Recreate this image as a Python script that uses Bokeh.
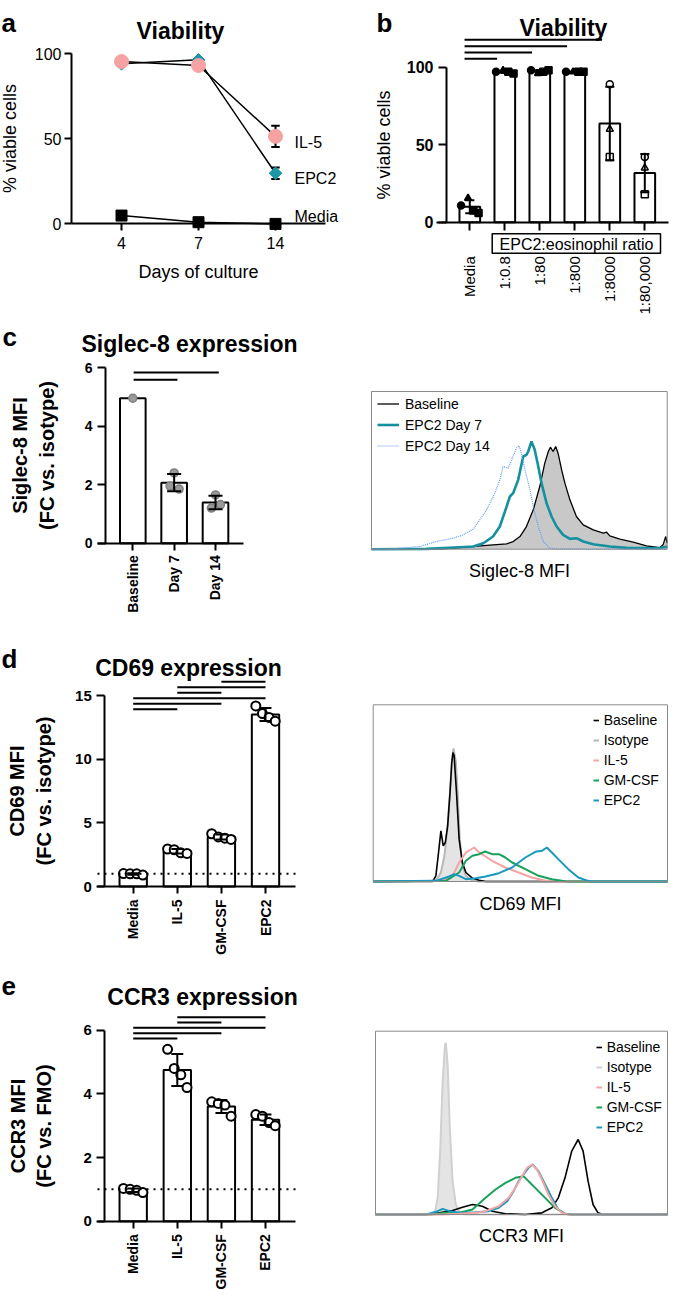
import math
import numpy as np
from bokeh.plotting import figure
from bokeh.layouts import column, row
from bokeh.models import Label, FixedTicker, BoxAnnotation, Legend, LegendItem
from bokeh.embed import file_html
from bokeh.resources import INLINE

FONT = "Liberation Sans"

# ---------------- data ----------------
# (a) viability over time
a_days = ["4", "7", "14"]
a_il5 = [95.5, 93.2, 51.5]
a_il5_sd = [0.8, 0.8, 6.3]
a_epc2 = [94.2, 96.5, 29.8]
a_epc2_sd = [0.8, 0.8, 3.4]
a_media = [4.9, 1.0, 0.0]
a_names = ["IL-5", "EPC2", "Media"]

# (b) viability vs ratio
b_groups = ["Media", "1:0.8", "1:80", "1:800", "1:8000", "1:80,000"]
b_values = [[10.7, 15.5, 7.5, 6.0], [97, 98, 97, 96], [98, 96, 97, 98],
            [97, 97, 97, 97], [89, 60, 42], [42, 35, 18]]
b_sig_pairs = [(0, 1), (0, 2), (0, 3), (0, 4)]
b_ratio_label = "EPC2:eosinophil ratio"

# (c) Siglec-8
c_groups = ["Baseline", "Day 7", "Day 14"]
c_values = [[4.95], [2.4, 1.95, 1.85], [1.65, 1.2, 1.32]]
c_sig_pairs = [(0, 1), (0, 2)]

sig_base_x = [0, 242, 411, 457, 479, 502, 524, 547, 569, 586, 598, 605, 614, 623, 631, 643, 654,
              671, 693, 716, 750, 784, 795, 806, 840, 885, 930, 975, 986, 995, 1000]
sig_base_y = [0, 1, 13, 16, 23, 38, 68, 118, 188, 258, 293, 306, 293, 308, 288, 238, 198,
              148, 98, 73, 58, 48, 51, 40, 30, 21, 10, 5, 13, 38, 18]
sig_d7_x = [0, 186, 299, 344, 378, 411, 434, 457, 468, 479, 496, 513, 524, 530, 541, 552, 564,
            575, 592, 609, 626, 648, 671, 693, 716, 750, 806, 862, 975, 1000]
sig_d7_y = [0, 1, 6, 8, 18, 38, 68, 128, 158, 168, 208, 278, 283, 293, 323, 298, 248,
            198, 138, 98, 68, 43, 31, 33, 23, 15, 8, 4, 3, 8]
sig_d14_x = [0, 73, 163, 220, 276, 310, 344, 366, 389, 400, 417, 434, 445, 462, 474, 490, 499,
             507, 519, 536, 547, 564, 581, 603, 637, 1000]
sig_d14_y = [0, 1, 8, 23, 33, 43, 60, 88, 118, 138, 168, 208, 248, 243, 268, 303, 310,
             288, 238, 178, 128, 68, 23, 3, 0, 0]

# (d) CD69
d_groups = ["Media", "IL-5", "GM-CSF", "EPC2"]
d_values = [[1.02, 1.0, 1.0, 0.9], [2.95, 2.9, 2.65, 2.6], [4.15, 3.9, 3.8, 3.7], [14.2, 13.6, 13.3, 13.0]]
d_sig_pairs = [(0, 1), (0, 2), (0, 3), (1, 2), (1, 3), (2, 3)]

cd69_base_x = [0, 202, 213, 222, 230, 238, 245, 253, 261, 267, 271, 275, 283, 292, 303, 315, 337, 360, 382, 1000]
cd69_base_y = [0, 0, 17, 87, 152, 107, 117, 167, 267, 357, 387, 377, 267, 127, 57, 27, 10, 4, 0, 0]
cd69_iso_x = [0, 213, 230, 242, 253, 261, 267, 273, 281, 287, 294, 303, 315, 337, 360, 1000]
cd69_iso_y = [0, 2, 27, 77, 167, 267, 357, 399, 357, 267, 127, 47, 17, 2, 0, 0]
cd69_il5_x = [0, 236, 270, 292, 315, 343, 360, 382, 404, 449, 494, 539, 584, 629, 1000]
cd69_il5_y = [0, 2, 17, 57, 87, 102, 87, 75, 62, 42, 27, 12, 3, 0, 0]
cd69_gm_x = [0, 247, 292, 315, 337, 360, 380, 404, 427, 449, 472, 517, 562, 607, 652, 674, 1000]
cd69_gm_y = [0, 2, 27, 62, 77, 82, 90, 82, 82, 72, 57, 37, 17, 7, 1, 0, 0]
cd69_epc2_x = [0, 213, 258, 275, 292, 315, 348, 382, 427, 472, 517, 551, 573, 590, 607, 629, 663, 697, 730, 742, 1000]
cd69_epc2_y = [0, 2, 15, 22, 17, 7, 10, 15, 25, 42, 72, 89, 92, 102, 87, 67, 37, 12, 2, 0, 0]

# (e) CCR3
e_groups = ["Media", "IL-5", "GM-CSF", "EPC2"]
e_values = [[1.03, 1.0, 0.97, 0.9], [5.4, 4.8, 4.6, 4.2], [3.75, 3.7, 3.65, 3.3], [3.35, 3.3, 3.1, 3.0]]
e_sig_pairs = [(0, 1), (0, 2), (0, 3), (1, 2), (1, 3)]

ccr3_iso_x = [0, 202, 213, 222, 230, 238, 241, 247, 255, 264, 275, 292, 309, 1000]
ccr3_iso_y = [0, 0, 50, 200, 400, 510, 515, 450, 250, 100, 30, 2, 0, 0]
ccr3_base_x = [0, 173, 219, 264, 298, 332, 366, 400, 445, 513, 570, 604, 626, 649, 672, 694, 711, 728, 745, 762, 779, 1000]
ccr3_base_y = [0, 0, 5, 12, 22, 30, 25, 10, 2, 0, 5, 20, 50, 110, 190, 225, 190, 100, 30, 5, 0, 0]
ccr3_gm_x = [0, 185, 241, 287, 332, 377, 411, 445, 479, 507, 524, 547, 581, 615, 649, 672, 1000]
ccr3_gm_y = [0, 0, 5, 5, 15, 50, 75, 95, 110, 115, 100, 80, 50, 20, 2, 0, 0]
ccr3_il5_x = [0, 230, 287, 343, 377, 422, 456, 479, 502, 519, 536, 553, 570, 592, 615, 638, 660, 1000]
ccr3_il5_y = [0, 0, 2, 5, 10, 25, 50, 80, 115, 140, 150, 135, 105, 60, 25, 5, 0, 0]
ccr3_epc2_x = [0, 173, 207, 230, 253, 287, 343, 388, 422, 451, 473, 490, 507, 524, 538, 558, 581, 604, 626, 649, 672, 1000]
ccr3_epc2_y = [0, 0, 8, 17, 10, 5, 7, 10, 20, 40, 70, 100, 120, 140, 150, 130, 90, 50, 15, 2, 0, 0]

# ---------------- colours ----------------
PINK = "#f6a2a2"
TEAL = "#1b97a7"
H_TEAL = "#15909f"
H_DOT = "#5f9df5"
H_IL5 = "#f5a3a3"
H_GM = "#17a15b"
H_EPC2 = "#1a99bf"
H_ISO_FILL = "#e4e4e4"
H_ISO_LINE = "#b8b8b8"

# ---------------- geometry ----------------
# fig = page rectangle; shift = offset applied to reference-pixel positions;
# xm / ym = (reference pixel of data 0, pixels per data unit)
SPEC = {
    "a": dict(fig=(0, 0, 340, 314), shift=(0, 0), xm=(121, 77), ym=(223.4, 1.7)),
    "b": dict(fig=(340, 0, 329, 314), shift=(-14, 0), xm=(483.3, 35), ym=(221.7, 1.55)),
    "c": dict(fig=(0, 314, 340, 308), shift=(0, -4), xm=(132.3, 41.35), ym=(546.7, 29.28)),
    "c2": dict(fig=(340, 314, 329, 308), shift=(-14, -4), xm=(385, 0.2957), ym=(552.7, 0.3334)),
    "d": dict(fig=(0, 622, 340, 344), shift=(0, -8), xm=(132.7, 44.1), ym=(894, 12.713)),
    "d2": dict(fig=(340, 622, 329, 344), shift=(-14, -8), xm=(386.7, 0.2943), ym=(889, 0.3334)),
    "e": dict(fig=(0, 966, 340, 325), shift=(0, -16), xm=(132.7, 44.1), ym=(1236.7, 31.83)),
    "e2": dict(fig=(340, 966, 329, 325), shift=(-14, -16), xm=(389, 0.292), ym=(1230, 0.3333)),
}


def rx(key, X):
    px0, ppu = SPEC[key]["xm"]
    return (X - px0) / ppu


def ry(key, Y):
    py0, ppu = SPEC[key]["ym"]
    return (py0 - Y) / ppu


def make_fig(key):
    s = SPEC[key]
    fx, fy, w, h = s["fig"]
    sx, sy = s["shift"]
    xr = (rx(key, fx - sx), rx(key, fx + w - sx))
    yr = (ry(key, fy + h - sy), ry(key, fy - sy))
    p = figure(width=w, height=h, x_range=xr, y_range=yr, title=None,
               output_backend="svg", toolbar_location=None,
               min_border_left=0, min_border_right=0, min_border_top=0, min_border_bottom=0)
    p.xgrid.visible = False
    p.ygrid.visible = False
    p.outline_line_color = None
    p.background_fill_color = "white"
    p.border_fill_color = "white"
    return p


def style_axis(ax, tick_px, tick_style, label_px, label_style, tick_out=7, standoff=5, label_standoff=8):
    ax.axis_line_color = "black"
    ax.axis_line_width = 2
    ax.major_tick_line_color = "black"
    ax.major_tick_line_width = 2
    ax.major_tick_in = 0
    ax.major_tick_out = tick_out
    ax.minor_tick_line_color = None
    ax.major_label_text_font = FONT
    ax.major_label_text_font_size = f"{tick_px}px"
    ax.major_label_text_font_style = tick_style
    ax.major_label_text_color = "black"
    ax.major_label_standoff = standoff
    ax.axis_label_text_font = FONT
    ax.axis_label_text_font_size = f"{label_px}px"
    ax.axis_label_text_font_style = label_style
    ax.axis_label_text_color = "black"
    ax.axis_label_standoff = label_standoff


def put_text(p, key, X, Y, text, size, style="normal", align="left", baseline="alphabetic"):
    p.add_layout(Label(x=rx(key, X), y=ry(key, Y), text=text, text_font=FONT,
                       text_font_size=f"{size}px", text_font_style=style,
                       text_align=align, text_baseline=baseline, text_color="black"))


def sdev(v):
    return float(np.std(v, ddof=1)) if len(v) > 1 else 0.0


def bar_panel(key, groups, values, bar_w, cap_w, jit, markers, fills, pt_line, pt_size, pt_lw,
              x_bounds_px, y_axis_px, y_bounds, y_ticks):
    p = make_fig(key)
    xs = list(range(len(groups)))
    means = [float(np.mean(v)) for v in values]
    sds = [sdev(v) for v in values]
    p.vbar(x=xs, top=means, width=bar_w, bottom=0, fill_color="white",
           line_color="black", line_width=2)
    ptx, pty, mk, fc = [], [], [], []
    for i, v in enumerate(values):
        offs = jit[len(v)]
        for j, val in enumerate(v):
            ptx.append(i + offs[j])
            pty.append(val)
            mk.append(markers[j % len(markers)])
            fc.append(fills[i])
    p.scatter(x=ptx, y=pty, marker=mk, size=pt_size, fill_color=fc,
              line_color=pt_line, line_width=pt_lw)
    eb = [i for i in xs if sds[i] > 0]
    lo = [means[i] - sds[i] for i in eb]
    hi = [means[i] + sds[i] for i in eb]
    p.segment(x0=eb, y0=lo, x1=eb, y1=hi, line_color="black", line_width=2)
    p.segment(x0=[i - cap_w / 2 for i in eb], y0=hi, x1=[i + cap_w / 2 for i in eb], y1=hi,
              line_color="black", line_width=2)
    p.segment(x0=[i - cap_w / 2 for i in eb], y0=lo, x1=[i + cap_w / 2 for i in eb], y1=lo,
              line_color="black", line_width=2)
    xa = p.xaxis[0]
    xa.fixed_location = 0
    xa.bounds = (rx(key, x_bounds_px[0]), rx(key, x_bounds_px[1]))
    xa.ticker = FixedTicker(ticks=xs)
    xa.major_label_overrides = {i: g for i, g in enumerate(groups)}
    xa.major_label_orientation = math.pi / 2
    ya = p.yaxis[0]
    ya.fixed_location = rx(key, y_axis_px)
    ya.bounds = y_bounds
    ya.ticker = FixedTicker(ticks=y_ticks)
    return p


def sig_lines(p, key, pairs, base_px, step_px, off0=0.0, off1=0.0):
    ys = [ry(key, base_px - k * step_px) for k in range(len(pairs))]
    p.segment(x0=[a + off0 for a, b in pairs], y0=ys, x1=[b + off1 for a, b in pairs], y1=ys,
              line_color="black", line_width=2)


def hist_fig(key, xlabel, box_px, label_standoff):
    p = make_fig(key)
    l, r, t, b = box_px
    p.add_layout(BoxAnnotation(left=rx(key, l), right=rx(key, r), top=ry(key, t), bottom=ry(key, b),
                               fill_alpha=0, line_color="#8a8a8a", line_width=1, line_alpha=1))
    ax = p.xaxis[0]
    ax.fixed_location = 0
    ax.bounds = (0, 1000)
    ax.ticker = FixedTicker(ticks=[])
    ax.axis_line_color = None
    ax.major_tick_line_color = None
    ax.minor_tick_line_color = None
    ax.major_tick_out = 0
    ax.major_label_standoff = 0
    ax.axis_label = xlabel
    ax.axis_label_text_font = FONT
    ax.axis_label_text_font_size = "18px"
    ax.axis_label_text_font_style = "normal"
    ax.axis_label_text_color = "black"
    ax.axis_label_standoff = label_standoff
    p.yaxis.visible = False
    return p


def add_legend(p, key, items, left_px, top_px, glyph_w, row_h, padding, standoff):
    s = SPEC[key]
    fx, fy, w, h = s["fig"]
    sx, sy = s["shift"]
    height = len(items) * row_h + 2 * padding
    vx = (left_px + sx) - fx
    vy = (fy + h) - (top_px + sy + height)
    leg = Legend(items=items, location=(vx, vy), orientation="vertical",
                 background_fill_alpha=0, border_line_alpha=0,
                 label_text_font=FONT, label_text_font_size="14px", label_text_color="black",
                 glyph_width=glyph_w, glyph_height=row_h, label_height=row_h, spacing=0,
                 padding=padding, margin=0, label_standoff=standoff)
    p.add_layout(leg)


# ======================= panel a =======================
pa = make_fig("a")
xa_pos = list(range(len(a_days)))
for ys in (a_il5, a_epc2, a_media):
    pa.line(xa_pos, ys, line_color="black", line_width=1.5)
for ys, ss in ((a_il5, a_il5_sd), (a_epc2, a_epc2_sd)):
    lo = [m - s for m, s in zip(ys, ss)]
    hi = [m + s for m, s in zip(ys, ss)]
    pa.segment(x0=xa_pos, y0=lo, x1=xa_pos, y1=hi, line_color="black", line_width=2)
    pa.segment(x0=[x - 0.055 for x in xa_pos], y0=hi, x1=[x + 0.055 for x in xa_pos], y1=hi, line_color="black", line_width=2)
    pa.segment(x0=[x - 0.055 for x in xa_pos], y0=lo, x1=[x + 0.055 for x in xa_pos], y1=lo, line_color="black", line_width=2)
pa.scatter(xa_pos, a_epc2, marker="square", angle=math.pi / 4, size=9, fill_color=TEAL, line_color=TEAL)
pa.scatter(xa_pos, a_il5, marker="circle", size=14, fill_color=PINK, line_color=PINK)
pa.scatter(xa_pos, a_media, marker="square", size=11, fill_color="black", line_color="black")

ax = pa.xaxis[0]
style_axis(ax, 16, "normal", 18, "normal", tick_out=7, standoff=6, label_standoff=10)
ax.fixed_location = 0
ax.bounds = (rx("a", 71), rx("a", 325))
ax.ticker = FixedTicker(ticks=xa_pos)
ax.major_label_overrides = {i: d for i, d in enumerate(a_days)}
ax.axis_label = "Days of culture"
ay = pa.yaxis[0]
style_axis(ay, 16, "normal", 18, "normal", tick_out=7, standoff=3, label_standoff=12)
ay.fixed_location = rx("a", 71)
ay.ticker = FixedTicker(ticks=[0, 50, 100])
ay.bounds = (0, 100)
ay.axis_label = "% viable cells"

put_text(pa, "a", 1, 22, "a", 26, "bold")
put_text(pa, "a", 180, 30, "Viability", 23, "bold", align="center")
put_text(pa, "a", 294, 142, a_names[0], 16)
put_text(pa, "a", 294, 178, a_names[1], 16)
put_text(pa, "a", 294, 216, a_names[2], 16)

# ======================= panel b =======================
pb = bar_panel("b", b_groups, b_values, bar_w=0.59, cap_w=0.26,
               jit={4: [-0.25, -0.05, 0.1, 0.25], 3: [0.0, 0.0, 0.0]},
               markers=["circle", "triangle", "square", "square"],
               fills=["black", "black", "black", "black", "white", "white"],
               pt_line="black", pt_size=7, pt_lw=1.5,
               x_bounds_px=(450, 682), y_axis_px=460, y_bounds=(0, 100), y_ticks=[0, 50, 100])
sig_lines(pb, "b", b_sig_pairs, 58.3, 6.33, off0=-0.15, off1=-0.22)
ax = pb.xaxis[0]
style_axis(ax, 15, "normal", 18, "normal", tick_out=8, standoff=26)
ay = pb.yaxis[0]
style_axis(ay, 16, "bold", 18, "normal", tick_out=8, standoff=5, label_standoff=10)
ay.axis_label = "% viable cells"
pb.add_layout(BoxAnnotation(left=rx("b", 505.7), right=rx("b", 674), top=ry("b", 233.3), bottom=ry("b", 252.7),
                            fill_color="white", fill_alpha=1.0, line_color="black", line_width=1.5, line_alpha=1.0))
put_text(pb, "b", 590, 243.5, b_ratio_label, 16, align="center", baseline="middle")
put_text(pb, "b", 390, 22, "b", 26, "bold")
put_text(pb, "b", 577, 27, "Viability", 23, "bold", align="center")

# ======================= panel c =======================
pc = bar_panel("c", c_groups, c_values, bar_w=0.62, cap_w=0.34,
               jit={1: [0.0], 3: [0.0, -0.1, 0.12]},
               markers=["circle"], fills=["#9a9a9a"] * 3,
               pt_line="#808080", pt_size=8, pt_lw=1.5,
               x_bounds_px=(97, 243), y_axis_px=105, y_bounds=(0, 6), y_ticks=[0, 2, 4, 6])
sig_lines(pc, "c", c_sig_pairs, 383.3, 7.3, off0=0.02, off1=0.08)
ax = pc.xaxis[0]
style_axis(ax, 14, "bold", 14, "bold", tick_out=7, standoff=5)
ay = pc.yaxis[0]
style_axis(ay, 14, "bold", 20, "bold", tick_out=8, standoff=5, label_standoff=24)
ay.axis_label = "Siglec-8 MFI\n(FC vs. isotype)"
put_text(pc, "c", 2, 340, "c", 26, "bold")
put_text(pc, "c", 189, 347, "Siglec-8 expression", 23, "bold", align="center")

# ======================= panel c2 =======================
pc2 = hist_fig("c2", "Siglec-8 MFI", (385, 680.7, 395, 552.7), 11)
pc2.varea(x=sig_base_x, y1=0, y2=sig_base_y, fill_color="#c8c8c8")
r_b = pc2.line(sig_base_x, sig_base_y, line_color="black", line_width=1.3)
r_d7 = pc2.line(sig_d7_x, sig_d7_y, line_color=H_TEAL, line_width=2.6)
r_d14 = pc2.line(sig_d14_x, sig_d14_y, line_color=H_DOT, line_width=1.2, line_dash="1 1")
add_legend(pc2, "c2", [LegendItem(label="Baseline", renderers=[r_b]),
                       LegendItem(label="EPC2 Day 7", renderers=[r_d7]),
                       LegendItem(label="EPC2 Day 14", renderers=[r_d14])],
           left_px=389, top_px=395.2, glyph_w=22, row_h=21, padding=2, standoff=6)

# ======================= panel d =======================
pd_ = bar_panel("d", d_groups, d_values, bar_w=0.62, cap_w=0.27,
                jit={4: [-0.22, -0.07, 0.08, 0.22]},
                markers=["circle"], fills=["white"] * 4,
                pt_line="black", pt_size=9, pt_lw=2,
                x_bounds_px=(97, 295), y_axis_px=104.3, y_bounds=(0, 15), y_ticks=[0, 5, 10, 15])
pd_.segment(x0=[rx("d", 97)], y0=[1], x1=[rx("d", 295)], y1=[1], line_color="black", line_width=2, line_dash="2 5")
sig_lines(pd_, "d", d_sig_pairs, 716.7, 5.5)
ax = pd_.xaxis[0]
style_axis(ax, 14, "bold", 14, "bold", tick_out=7, standoff=6)
ay = pd_.yaxis[0]
style_axis(ay, 15, "bold", 20, "bold", tick_out=8, standoff=5, label_standoff=17)
ay.axis_label = "CD69 MFI\n(FC vs. isotype)"
put_text(pd_, "d", 1, 666.7, "d", 26, "bold")
put_text(pd_, "d", 188, 675, "CD69 expression", 23, "bold", align="center")

# ======================= panel d2 =======================
pd2 = hist_fig("d2", "CD69 MFI", (386.7, 681, 712.3, 889), 12)
pd2.varea(x=cd69_iso_x, y1=0, y2=cd69_iso_y, fill_color=H_ISO_FILL)
r_iso = pd2.line(cd69_iso_x, cd69_iso_y, line_color=H_ISO_LINE, line_width=2)
r_base = pd2.line(cd69_base_x, cd69_base_y, line_color="black", line_width=1.6)
r_il5 = pd2.line(cd69_il5_x, cd69_il5_y, line_color=H_IL5, line_width=2)
r_gm = pd2.line(cd69_gm_x, cd69_gm_y, line_color=H_GM, line_width=2)
r_ep = pd2.line(cd69_epc2_x, cd69_epc2_y, line_color=H_EPC2, line_width=2)
add_legend(pd2, "d2", [LegendItem(label="Baseline", renderers=[r_base]),
                       LegendItem(label="Isotype", renderers=[r_iso]),
                       LegendItem(label="IL-5", renderers=[r_il5]),
                       LegendItem(label="GM-CSF", renderers=[r_gm]),
                       LegendItem(label="EPC2", renderers=[r_ep])],
           left_px=602.7, top_px=714.3, glyph_w=6, row_h=20, padding=4, standoff=5)

# ======================= panel e =======================
pe = bar_panel("e", e_groups, e_values, bar_w=0.62, cap_w=0.27,
               jit={4: [-0.22, -0.07, 0.08, 0.22]},
               markers=["circle"], fills=["white"] * 4,
               pt_line="black", pt_size=9, pt_lw=2,
               x_bounds_px=(97, 295), y_axis_px=104.3, y_bounds=(0, 6), y_ticks=[0, 2, 4, 6])
pe.segment(x0=[rx("e", 97)], y0=[1], x1=[rx("e", 295)], y1=[1], line_color="black", line_width=2, line_dash="2 5")
sig_lines(pe, "e", e_sig_pairs, 1054, 5.33)
ax = pe.xaxis[0]
style_axis(ax, 14, "bold", 14, "bold", tick_out=7, standoff=6)
ay = pe.yaxis[0]
style_axis(ay, 15, "bold", 20, "bold", tick_out=8, standoff=5, label_standoff=25)
ay.axis_label = "CCR3 MFI\n(FC vs. FMO)"
put_text(pe, "e", 1, 1001.7, "e", 26, "bold")
put_text(pe, "e", 202, 1012.7, "CCR3 expression", 23, "bold", align="center")

# ======================= panel e2 =======================
pe2 = hist_fig("e2", "CCR3 MFI", (389, 681, 1046.7, 1230), 11)
pe2.varea(x=ccr3_iso_x, y1=0, y2=ccr3_iso_y, fill_color=H_ISO_FILL)
r_iso = pe2.line(ccr3_iso_x, ccr3_iso_y, line_color="#d0d0d0", line_width=2)
r_base = pe2.line(ccr3_base_x, ccr3_base_y, line_color="black", line_width=1.6)
r_gm = pe2.line(ccr3_gm_x, ccr3_gm_y, line_color=H_GM, line_width=2)
r_ep = pe2.line(ccr3_epc2_x, ccr3_epc2_y, line_color=H_EPC2, line_width=2)
r_il5 = pe2.line(ccr3_il5_x, ccr3_il5_y, line_color=H_IL5, line_width=2)
add_legend(pe2, "e2", [LegendItem(label="Baseline", renderers=[r_base]),
                       LegendItem(label="Isotype", renderers=[r_iso]),
                       LegendItem(label="IL-5", renderers=[r_il5]),
                       LegendItem(label="GM-CSF", renderers=[r_gm]),
                       LegendItem(label="EPC2", renderers=[r_ep])],
           left_px=605.7, top_px=1049.3, glyph_w=6, row_h=20, padding=4, standoff=5)

layout = column(row(pa, pb), row(pc, pc2), row(pd_, pd2), row(pe, pe2))
open("out.html", "w").write(file_html(layout, INLINE))
